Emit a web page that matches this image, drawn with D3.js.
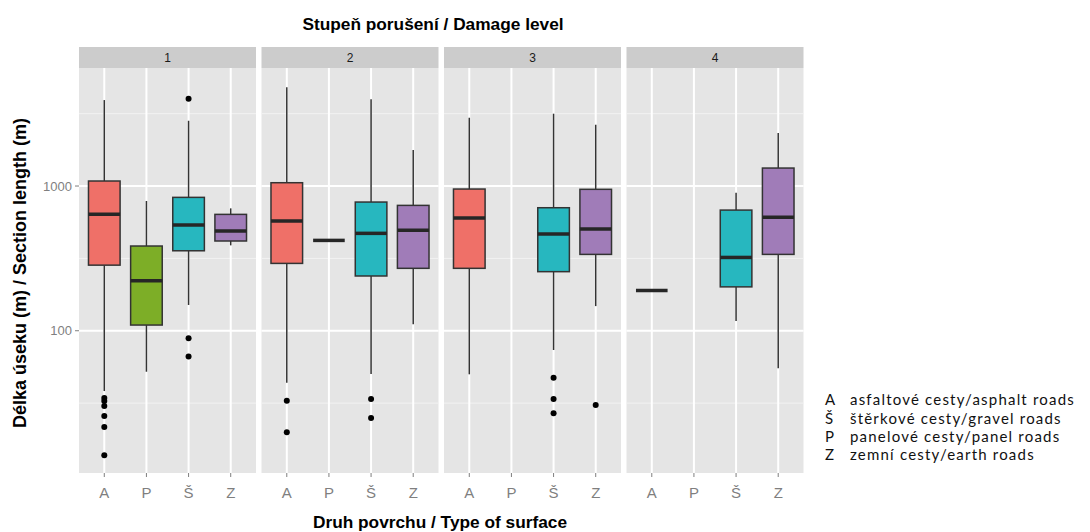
<!DOCTYPE html>
<html lang="en">
<head>
<meta charset="UTF-8">
<title>Damage level boxplots</title>
<script src="https://d3js.org/d3.v7.min.js"></script>
<style>
  body { margin: 0; background: #fff; }
  svg text { font-family: "Liberation Sans", Arial, sans-serif; }
  .legend text { font-family: "Lato", "Open Sans", sans-serif; }
</style>
</head>
<body>
<svg id="chart" width="1090" height="532"></svg>
<script>
// facets (damage level) and x categories (surface type)
const levels = ["1", "2", "3", "4"];
const surfaces = ["A", "P", "Š", "Z"];
const colors = ["#ef7068", "#7dae27", "#27b7bf", "#a07cb8"];

// box stats per level, per surface (null = no data)
const whiskerLow = [
  [38.3, 52.1, 150.7, 389],
  [43.7, 421, 50.2, 111],
  [50.0, null, 73.6, 148],
  [190, null, 116.6, 55.0]
];
const q1 = [
  [284, 109.5, 357, 417],
  [292, 421, 239, 270],
  [270, null, 256, 337],
  [190, null, 201, 337]
];
const median = [
  [637, 221.6, 537, 489],
  [573, 421, 471, 494],
  [601, null, 466, 505],
  [190, null, 321, 608]
];
const q3 = [
  [1083, 385, 835, 637],
  [1054, 421, 775, 735],
  [953, null, 708, 949],
  [190, null, 682, 1331]
];
const whiskerHigh = [
  [3927, 788, 2825, 701],
  [4809, 421, 3974, 1774],
  [2964, null, 3161, 2652],
  [190, null, 899, 2323]
];
const outliers = [
  [[34.3, 32.7, 30.2, 25.8, 21.6, 13.8], [], [4010, 88.6, 66.5], []],
  [[32.8, 19.9], [], [33.7, 25.0], []],
  [[], [], [47.3, 33.7, 26.9], [30.7]],
  [[], [], [], []]
];

const yTicks = [100, 1000];
const yMinor = [31.62, 316.2, 3162];

const legendKeys = ["A", "Š", "P", "Z"];
const legendLabels = [
  "asfaltové cesty/asphalt roads",
  "štěrkové cesty/gravel roads",
  "panelové cesty/panel roads",
  "zemní cesty/earth roads"
];

const svg = d3.select("#chart");

const plotLeft = 79, plotTop = 68, plotBottom = 473, stripH = 21;
const panelW = 177, panelGap = 5.5;

const y = d3.scaleLog().domain([10.4, 6540]).range([plotBottom, plotTop]);
const x = d3.scalePoint().domain(surfaces).range([0, panelW]).padding(0.6);
const boxW = x.step() * 0.75;

levels.forEach((lev, li) => {
  const g = svg.append("g")
    .attr("transform", `translate(${plotLeft + li * (panelW + panelGap)},0)`);

  // strip
  g.append("rect")
    .attr("x", 0).attr("y", plotTop - stripH)
    .attr("width", panelW).attr("height", stripH)
    .attr("fill", "#cccccc");
  g.append("text")
    .attr("x", panelW / 2).attr("y", plotTop - stripH / 2)
    .attr("dy", "0.35em")
    .attr("text-anchor", "middle")
    .attr("font-size", 12)
    .attr("fill", "#1a1a1a")
    .text(lev);

  // panel background
  g.append("rect")
    .attr("x", 0).attr("y", plotTop)
    .attr("width", panelW).attr("height", plotBottom - plotTop)
    .attr("fill", "#e5e5e5");

  // minor grid
  g.selectAll(".minor").data(yMinor).enter().append("line")
    .attr("x1", 0).attr("x2", panelW)
    .attr("y1", d => y(d)).attr("y2", d => y(d))
    .attr("stroke", "#f2f2f2").attr("stroke-width", 1);
  // major grid
  g.selectAll(".major").data(yTicks).enter().append("line")
    .attr("x1", 0).attr("x2", panelW)
    .attr("y1", d => y(d)).attr("y2", d => y(d))
    .attr("stroke", "#fff").attr("stroke-width", 2);
  g.selectAll(".vgrid").data(surfaces).enter().append("line")
    .attr("x1", d => x(d)).attr("x2", d => x(d))
    .attr("y1", plotTop).attr("y2", plotBottom)
    .attr("stroke", "#fff").attr("stroke-width", 2);

  // boxes
  surfaces.forEach((s, si) => {
    if (median[li][si] == null) return;
    const cx = x(s);
    g.append("line")
      .attr("x1", cx).attr("x2", cx)
      .attr("y1", y(whiskerHigh[li][si])).attr("y2", y(q3[li][si]))
      .attr("stroke", "#333").attr("stroke-width", 1.5);
    g.append("line")
      .attr("x1", cx).attr("x2", cx)
      .attr("y1", y(q1[li][si])).attr("y2", y(whiskerLow[li][si]))
      .attr("stroke", "#333").attr("stroke-width", 1.5);
    const h = y(q1[li][si]) - y(q3[li][si]);
    if (h > 0.5) {
      g.append("rect")
        .attr("x", cx - boxW / 2).attr("y", y(q3[li][si]))
        .attr("width", boxW).attr("height", h)
        .attr("fill", colors[si])
        .attr("stroke", "#333").attr("stroke-width", 1.5);
    }
    g.append("line")
      .attr("x1", cx - boxW / 2).attr("x2", cx + boxW / 2)
      .attr("y1", y(median[li][si])).attr("y2", y(median[li][si]))
      .attr("stroke", "#262626").attr("stroke-width", 3.5);
    g.selectAll(null).data(outliers[li][si]).enter().append("circle")
      .attr("cx", cx).attr("cy", d => y(d))
      .attr("r", 3).attr("fill", "#000");
  });

  // x axis ticks + labels
  const xa = g.append("g").attr("transform", `translate(0,${plotBottom})`);
  xa.selectAll("line").data(surfaces).enter().append("line")
    .attr("x1", d => x(d)).attr("x2", d => x(d))
    .attr("y1", 0).attr("y2", 4)
    .attr("stroke", "#7f7f7f");
  xa.selectAll("text").data(surfaces).enter().append("text")
    .attr("x", d => x(d)).attr("y", 20)
    .attr("dy", "0.35em")
    .attr("text-anchor", "middle")
    .attr("font-size", 15)
    .attr("fill", "#7f7f7f")
    .text(d => d);
});

// y axis
const ya = svg.append("g");
ya.selectAll("line").data(yTicks).enter().append("line")
  .attr("x1", plotLeft - 4).attr("x2", plotLeft)
  .attr("y1", d => y(d)).attr("y2", d => y(d))
  .attr("stroke", "#7f7f7f");
ya.selectAll("text").data(yTicks).enter().append("text")
  .attr("x", plotLeft - 7).attr("y", d => y(d))
  .attr("dy", "0.35em")
  .attr("text-anchor", "end")
  .attr("font-size", 13)
  .attr("fill", "#7f7f7f")
  .text(d => d);

// titles
svg.append("text")
  .attr("x", 433).attr("y", 24)
  .attr("dy", "0.35em")
  .attr("text-anchor", "middle")
  .attr("font-size", 17.3).attr("font-weight", "bold")
  .attr("fill", "#000")
  .text("Stupeň porušení / Damage level");
svg.append("text")
  .attr("x", 440).attr("y", 522)
  .attr("dy", "0.35em")
  .attr("text-anchor", "middle")
  .attr("font-size", 17.3).attr("font-weight", "bold")
  .attr("fill", "#000")
  .text("Druh povrchu / Type of surface");
svg.append("text")
  .attr("transform", "translate(20,273) rotate(-90)")
  .attr("dy", "0.35em")
  .attr("text-anchor", "middle")
  .attr("font-size", 18).attr("font-weight", "bold")
  .attr("fill", "#000")
  .text("Délka úseku (m) / Section length (m)");

// legend
const lg = svg.append("g").attr("class", "legend");
legendKeys.forEach((k, i) => {
  const ly = 400 + i * 18.3;
  lg.append("text")
    .attr("x", 825).attr("y", ly).attr("dy", "0.35em")
    .attr("font-size", 15).attr("fill", "#111")
    .text(k);
  lg.append("text")
    .attr("x", 850).attr("y", ly).attr("dy", "0.35em")
    .attr("font-size", 15).attr("fill", "#111")
    .attr("letter-spacing", 1.2)
    .text(legendLabels[i]);
});
</script>
</body>
</html>
